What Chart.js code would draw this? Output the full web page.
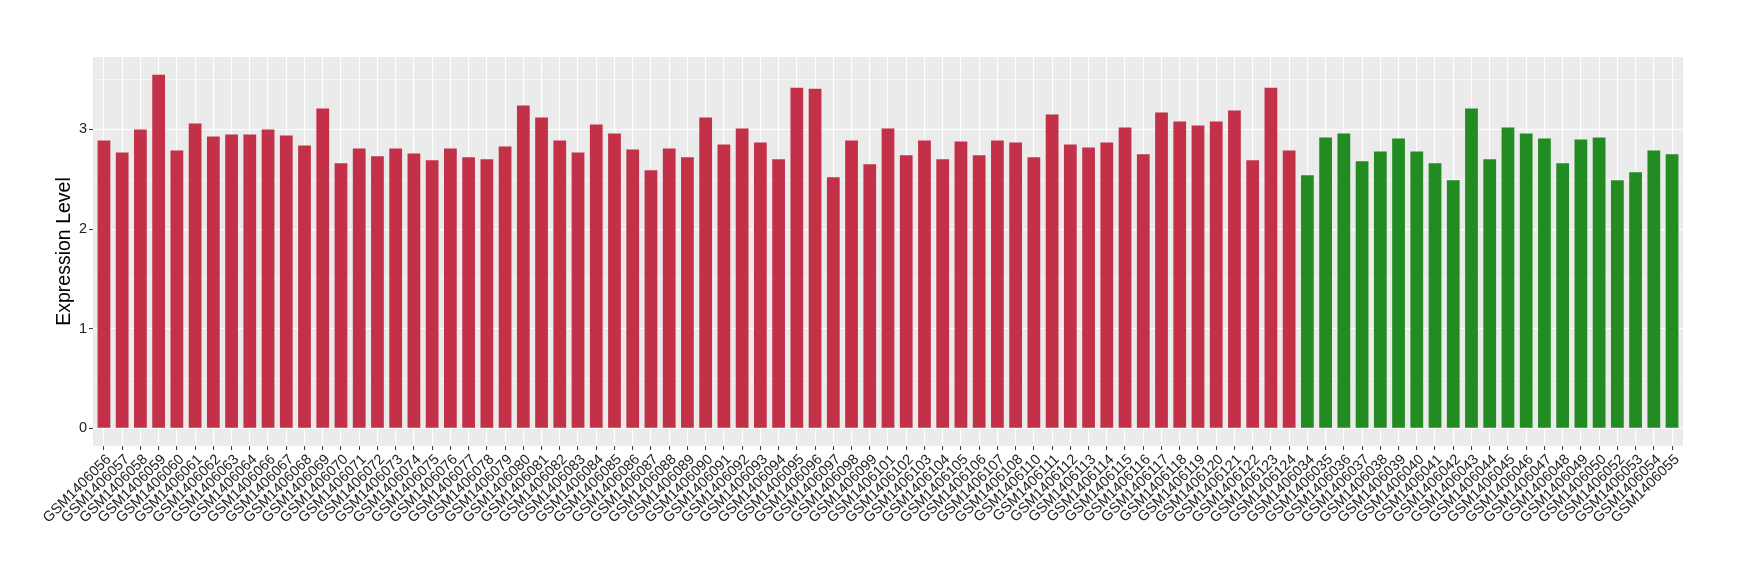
<!DOCTYPE html>
<html>
<head>
<meta charset="utf-8">
<script src="https://cdn.jsdelivr.net/npm/chart.js@4.4.1/dist/chart.umd.min.js"></script>
<style>
    html, body { margin: 0; padding: 0; background: #ffffff; }
    #wrap { width: 1740px; height: 580px; }
</style>
</head>
<body>
<div id="wrap"><canvas id="expressionChart" width="1740" height="580"></canvas></div>
<script>
const redSamples = [
    'GSM1406056', 'GSM1406057', 'GSM1406058', 'GSM1406059', 'GSM1406060', 'GSM1406061', 'GSM1406062', 'GSM1406063',
    'GSM1406064', 'GSM1406066', 'GSM1406067', 'GSM1406068', 'GSM1406069', 'GSM1406070', 'GSM1406071', 'GSM1406072',
    'GSM1406073', 'GSM1406074', 'GSM1406075', 'GSM1406076', 'GSM1406077', 'GSM1406078', 'GSM1406079', 'GSM1406080',
    'GSM1406081', 'GSM1406082', 'GSM1406083', 'GSM1406084', 'GSM1406085', 'GSM1406086', 'GSM1406087', 'GSM1406088',
    'GSM1406089', 'GSM1406090', 'GSM1406091', 'GSM1406092', 'GSM1406093', 'GSM1406094', 'GSM1406095', 'GSM1406096',
    'GSM1406097', 'GSM1406098', 'GSM1406099', 'GSM1406101', 'GSM1406102', 'GSM1406103', 'GSM1406104', 'GSM1406105',
    'GSM1406106', 'GSM1406107', 'GSM1406108', 'GSM1406110', 'GSM1406111', 'GSM1406112', 'GSM1406113', 'GSM1406114',
    'GSM1406115', 'GSM1406116', 'GSM1406117', 'GSM1406118', 'GSM1406119', 'GSM1406120', 'GSM1406121', 'GSM1406122',
    'GSM1406123', 'GSM1406124'
];
const redValues = [
    2.89, 2.77, 3.00, 3.55, 2.79, 3.06, 2.93, 2.95,
    2.95, 3.00, 2.94, 2.84, 3.21, 2.66, 2.81, 2.73,
    2.81, 2.76, 2.69, 2.81, 2.72, 2.70, 2.83, 3.24,
    3.12, 2.89, 2.77, 3.05, 2.96, 2.80, 2.59, 2.81,
    2.72, 3.12, 2.85, 3.01, 2.87, 2.70, 3.42, 3.41,
    2.52, 2.89, 2.65, 3.01, 2.74, 2.89, 2.70, 2.88,
    2.74, 2.89, 2.87, 2.72, 3.15, 2.85, 2.82, 2.87,
    3.02, 2.75, 3.17, 3.08, 3.04, 3.08, 3.19, 2.69,
    3.42, 2.79
];
const greenSamples = [
    'GSM1406034', 'GSM1406035', 'GSM1406036', 'GSM1406037', 'GSM1406038', 'GSM1406039', 'GSM1406040',
    'GSM1406041', 'GSM1406042', 'GSM1406043', 'GSM1406044', 'GSM1406045', 'GSM1406046', 'GSM1406047',
    'GSM1406048', 'GSM1406049', 'GSM1406050', 'GSM1406052', 'GSM1406053', 'GSM1406054', 'GSM1406055'
];
const greenValues = [
    2.54, 2.92, 2.96, 2.68, 2.78, 2.91, 2.78,
    2.66, 2.49, 3.21, 2.70, 3.02, 2.96, 2.91,
    2.66, 2.90, 2.92, 2.49, 2.57, 2.79, 2.75
];
const majorTicks = [0, 1, 2, 3];
const minorTicks = [0.5, 1.5, 2.5, 3.5];

const allSamples = redSamples.concat(greenSamples);

// ggplot style limits: 5% around the data, 0.6 of a category on each side of x
const yTop = Math.max.apply(null, redValues.concat(greenValues));
const yMin = -0.05 * yTop;
const yMax = yTop * 1.05;

function toPoints(values, startIndex) {
    return values.map(function(v, i) { return { x: startIndex + i, y: v }; });
}

const panelPlugin = {
    id: 'panelBackground',
    beforeDraw: function(chart) {
        const area = chart.chartArea;
        const ctx = chart.ctx;
        ctx.save();
        ctx.fillStyle = '#EBEBEB';
        ctx.fillRect(area.left, area.top, area.right - area.left, area.bottom - area.top);
        ctx.restore();
    }
};

const textFont = "'Liberation Sans', Arial, sans-serif";
const ctx = document.getElementById('expressionChart').getContext('2d');

new Chart(ctx, {
    type: 'bar',
    data: {
        datasets: [{
            label: 'red',
            data: toPoints(redValues, 0),
            backgroundColor: '#C33149',
            borderWidth: 0
        }, {
            label: 'green',
            data: toPoints(greenValues, redValues.length),
            backgroundColor: '#228B22',
            borderWidth: 0
        }]
    },
    options: {
        responsive: false,
        animation: false,
        devicePixelRatio: 1,
        layout: { padding: { left: 53, top: 57, right: 57, bottom: 0 } },
        datasets: {
            bar: { grouped: false, categoryPercentage: 1, barPercentage: 0.7 }
        },
        plugins: {
            legend: { display: false },
            tooltip: { enabled: false }
        },
        scales: {
            x: {
                type: 'linear',
                offset: false,
                min: -0.6,
                max: allSamples.length - 0.4,
                afterBuildTicks: function(scale) {
                    scale.ticks = allSamples.map(function(s, i) { return { value: i }; });
                },
                afterFit: function(scale) { scale.height = 134; },
                grid: {
                    offset: false,
                    color: '#FFFFFF',
                    lineWidth: 1.1,
                    drawTicks: true,
                    tickLength: 4,
                    tickColor: '#333333',
                    tickWidth: 1
                },
                border: { display: false },
                ticks: {
                    autoSkip: false,
                    maxRotation: 45,
                    minRotation: 45,
                    padding: 1,
                    labelOffset: 5,
                    color: '#222222',
                    font: { family: textFont, size: 14.5 },
                    callback: function(value) { return allSamples[value]; }
                }
            },
            y: {
                min: yMin,
                max: yMax,
                afterBuildTicks: function(scale) {
                    scale.ticks = majorTicks.concat(minorTicks).sort().map(function(v) { return { value: v }; });
                },
                afterFit: function(scale) { scale.width = 40; },
                grid: {
                    color: '#FFFFFF',
                    lineWidth: function(c) { return majorTicks.indexOf(c.tick.value) >= 0 ? 1.1 : 0.55; },
                    tickLength: 4,
                    tickColor: function(c) { return majorTicks.indexOf(c.tick.value) >= 0 ? '#333333' : 'rgba(0,0,0,0)'; },
                    tickWidth: 1
                },
                border: { display: false },
                ticks: {
                    padding: 2,
                    color: '#222222',
                    font: { family: textFont, size: 14.5 },
                    callback: function(value) { return majorTicks.indexOf(value) >= 0 ? String(value) : ''; }
                },
                title: {
                    display: true,
                    text: 'Expression Level',
                    color: '#000000',
                    padding: { top: 0, bottom: 0 },
                    font: { family: textFont, size: 19.5 }
                }
            }
        }
    },
    plugins: [panelPlugin]
});
</script>
</body>
</html>
